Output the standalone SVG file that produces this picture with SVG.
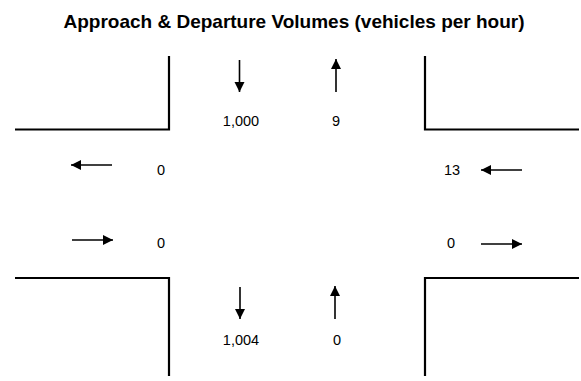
<svg xmlns="http://www.w3.org/2000/svg" width="581" height="381" viewBox="0 0 581 381">
  <defs>
    <marker id="head" viewBox="0 0 10 10" refX="10" refY="5" markerWidth="10" markerHeight="13" markerUnits="userSpaceOnUse" orient="auto">
      <path d="M0,0 L10,5 L0,10 Z" fill="#000"/>
    </marker>
    <style>
      .curb { fill: none; stroke: #000; stroke-width: 2.2; }
      .flow { stroke: #000; stroke-width: 1.6; marker-end: url(#head); }
      .title { font-family: "Liberation Sans", Arial, sans-serif; font-size: 19px; font-weight: bold; text-anchor: middle; fill: #000; }
      .vol { font-family: "Liberation Sans", Arial, sans-serif; font-size: 14.5px; text-anchor: middle; fill: #000; }
    </style>
  </defs>
  <rect width="581" height="381" fill="#fff"/>

  <text class="title" x="294" y="28">Approach &amp; Departure Volumes (vehicles per hour)</text>

  <!-- street corners -->
  <g id="curbs">
    <path class="curb" d="M15,129.5 H169 V56"/>
    <path class="curb" d="M425,56 V129.5 H579"/>
    <path class="curb" d="M15,278 H169 V376"/>
    <path class="curb" d="M425,376 V278 H579"/>
  </g>

  <g id="connectors">
    <!-- north leg -->
    <line class="flow" x1="239.5" y1="60" x2="239.5" y2="92"/>
    <line class="flow" x1="336" y1="92" x2="336" y2="59"/>
    <!-- west leg -->
    <line class="flow" x1="112" y1="165" x2="71" y2="165"/>
    <line class="flow" x1="72" y1="240" x2="113" y2="240"/>
    <!-- east leg -->
    <line class="flow" x1="522" y1="170" x2="481" y2="170"/>
    <line class="flow" x1="481" y1="244" x2="522" y2="244"/>
    <!-- south leg -->
    <line class="flow" x1="240" y1="287" x2="240" y2="319"/>
    <line class="flow" x1="335" y1="319" x2="335" y2="286"/>
  </g>

  <g id="north-in"><text class="vol" x="241" y="126">1,000</text></g>
  <g id="north-out"><text class="vol" x="336" y="126">9</text></g>
  <g id="west-out"><text class="vol" x="161" y="175">0</text></g>
  <g id="west-in"><text class="vol" x="161" y="248">0</text></g>
  <g id="east-in"><text class="vol" x="452" y="175">13</text></g>
  <g id="east-out"><text class="vol" x="451" y="248">0</text></g>
  <g id="south-out"><text class="vol" x="241" y="345">1,004</text></g>
  <g id="south-in"><text class="vol" x="337" y="345">0</text></g>
</svg>
